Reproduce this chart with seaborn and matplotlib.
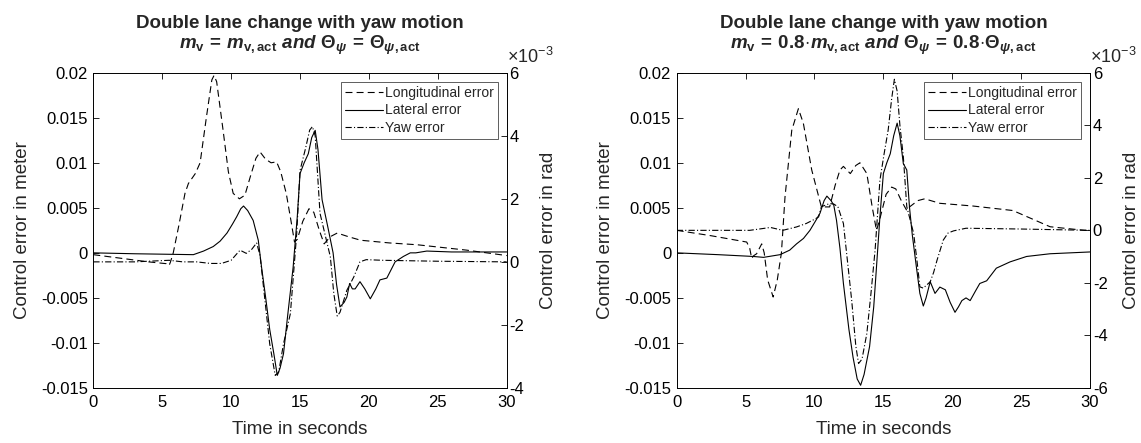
import numpy as np
import matplotlib
matplotlib.use("Agg")
import matplotlib.pyplot as plt
from matplotlib.ticker import FuncFormatter
from matplotlib.lines import Line2D
import seaborn as sns

# ---------------------------------------------------------------------------
# Data (time in s, position errors in m, yaw in 1e-3 rad)
# ---------------------------------------------------------------------------

# left panel: m_v = m_v,act
t_long_a = [0, 2, 4, 5.3, 5.5, 5.6, 5.8, 6.2, 6.65, 6.9, 7.4, 7.75, 8.2, 8.6, 8.76, 8.95,
            9.4, 9.8, 10.15, 10.6, 11.0, 11.4, 11.8, 12.1, 12.5, 12.9, 13.3, 13.6, 14.0,
            14.35, 14.6, 14.8, 15.2, 15.65, 16.0, 16.4, 16.75, 17.2, 17.7, 18.5, 19.4,
            21.5, 23.5, 27.1, 30]
long_a = [-0.0002, -0.0006, -0.001, -0.0012, -0.0014, -0.0010, 0.0, 0.003, 0.0066, 0.0077,
          0.0088, 0.0100, 0.0150, 0.0192, 0.0197, 0.0190, 0.0138, 0.0090, 0.0066, 0.0060,
          0.0064, 0.0085, 0.0105, 0.0112, 0.0104, 0.0100, 0.0101, 0.0090, 0.0066, 0.0035,
          0.0012, 0.0015, 0.0035, 0.0049, 0.0045, 0.0025, 0.0010, 0.0018, 0.0022, 0.0018,
          0.0014, 0.0011, 0.0009, 0.0003, -0.0003]

t_lat_a = [0, 3, 7.26, 8.0, 8.7, 9.2, 9.7, 10.1, 10.4, 10.7, 10.9, 11.2, 11.6, 11.97, 12.2,
           12.5, 12.8, 13.1, 13.35, 13.55, 13.8, 14.1, 14.5, 14.8, 15.0, 15.3, 15.6, 15.85,
           16.1, 16.3, 16.6, 17.0, 17.4, 17.65, 17.9, 18.2, 18.4, 18.6, 18.8, 19.0, 19.35,
           19.7, 20.1, 20.5, 20.8, 21.3, 21.9, 22.5, 23.0, 23.4, 24.2, 26, 30]
lat_a = [0.0, -0.0001, -0.0002, 0.0002, 0.0007, 0.0013, 0.0022, 0.0032, 0.0040, 0.0049,
         0.0052, 0.0047, 0.0036, 0.0014, -0.0015, -0.0049, -0.0085, -0.0112, -0.0136,
         -0.0128, -0.0112, -0.0070, -0.0016, 0.0040, 0.0088, 0.0100, 0.0110, 0.0128,
         0.0136, 0.0115, 0.0059, 0.0030, 0.0, -0.0035, -0.0060, -0.0055, -0.0049, -0.0034,
         -0.0040, -0.0040, -0.0032, -0.0040, -0.0051, -0.0040, -0.0030, -0.0028, -0.0010,
         -0.0004, 0.0, 0.0, 0.0002, 0.0001, 0.0001]

t_yaw_a = [0, 3, 5.5, 6.5, 7.5, 8.5, 9.3, 10.0, 10.4, 10.65, 11.1, 11.5, 11.85, 12.1, 12.4,
           12.8, 13.2, 13.45, 13.8, 14.3, 14.76, 15.0, 15.4, 15.7, 15.9, 16.1, 16.45, 17.2,
           17.45, 17.7, 17.9, 18.4, 18.9, 19.35, 19.8, 21.0, 25, 30]
yaw_a = [0.0, 0.0, 0.05, 0.0, 0.0, -0.05, -0.05, 0.05, 0.25, 0.37, 0.27, 0.4, 0.6, 0.2, -1.0,
         -2.6, -3.6, -3.5, -2.6, -1.64, 0.9, 2.9, 3.6, 4.18, 4.29, 4.0, 1.54, 0.16, -1.0,
         -1.72, -1.6, -0.9, -0.48, 0.0, 0.07, 0.05, 0.02, 0.0]

# right panel: m_v = 0.8 m_v,act
t_long_b = [0, 2.5, 5.08, 5.3, 5.44, 5.6, 5.8, 6.0, 6.17, 6.35, 6.6, 7.0, 7.3, 7.6, 7.86,
            8.35, 8.83, 9.19, 9.8, 10.5, 11.1, 11.5, 11.85, 12.1, 12.6, 13.0, 13.3, 13.8,
            14.2, 14.5, 14.7, 15.2, 15.6, 15.9, 16.3, 16.7, 16.9, 17.5, 18.0, 19.1, 21.5,
            24.4, 27.1, 29.6, 30]
long_b = [0.0025, 0.0019, 0.0012, 0.0005, -0.0006, -0.0003, -0.0001, 0.0005, 0.0010, 0.0,
          -0.003, -0.0049, -0.003, 0.0, 0.0062, 0.0136, 0.0160, 0.0144, 0.0092, 0.0051,
          0.0051, 0.0075, 0.0092, 0.0096, 0.0088, 0.0097, 0.0100, 0.0088, 0.0050, 0.0025,
          0.0035, 0.0065, 0.0073, 0.0071, 0.0058, 0.0047, 0.0051, 0.0058, 0.0060, 0.0055,
          0.0052, 0.0047, 0.0029, 0.0025, 0.0025]

t_lat_b = [0, 3, 5.56, 6.3, 7.5, 8.2, 8.7, 9.2, 9.67, 10.1, 10.4, 10.7, 10.9, 11.2, 11.4,
           11.6, 11.85, 12.1, 12.5, 12.8, 13.1, 13.35, 13.6, 14.0, 14.3, 14.5, 14.75, 15.0,
           15.25, 15.5, 15.75, 16.0, 16.2, 16.45, 16.7, 16.9, 17.1, 17.4, 17.65, 17.9, 18.1,
           18.4, 18.75, 19.1, 19.5, 19.85, 20.2, 20.45, 20.7, 21.0, 21.3, 21.7, 22.0, 22.5,
           23.2, 24.2, 25.4, 27.1, 30]
lat_b = [0.0, -0.0002, -0.0004, -0.0005, -0.0002, 0.0003, 0.0010, 0.0016, 0.0025, 0.0036,
         0.0044, 0.0058, 0.0063, 0.0058, 0.0053, 0.0036, 0.0005, -0.0034, -0.0085, -0.0116,
         -0.0140, -0.0147, -0.0135, -0.0104, -0.0060, -0.0016, 0.0040, 0.0088, 0.0100,
         0.0110, 0.0130, 0.0144, 0.0130, 0.0099, 0.0092, 0.0050, 0.0020, -0.0016, -0.0045,
         -0.0059, -0.0050, -0.0032, -0.0045, -0.0038, -0.0041, -0.0055, -0.0066, -0.0060,
         -0.0053, -0.0050, -0.0053, -0.0042, -0.0034, -0.0031, -0.0017, -0.0010, -0.0004,
         -0.0001, 0.0001]

t_yaw_b = [0, 5.3, 6.0, 6.8, 7.7, 8.7, 9.4, 10.0, 10.3, 10.5, 11.1, 11.4, 11.7, 12.1, 12.4,
           12.7, 13.0, 13.2, 13.45, 13.8, 14.1, 14.4, 14.75, 15.05, 15.35, 15.6, 15.8, 16.0,
           16.2, 16.45, 16.7, 17.2, 17.45, 17.65, 17.9, 18.1, 18.4, 18.65, 18.9, 19.35, 19.7,
           20.1, 21.0, 25, 30]
yaw_b = [0.0, 0.0, 0.05, 0.11, 0.0, 0.13, 0.26, 0.42, 0.51, 0.9, 1.02, 1.0, 0.9, 0.26, -1.2,
         -2.66, -4.4, -5.07, -4.9, -3.93, -2.4, -0.75, 1.91, 2.9, 3.82, 5.0, 5.75, 5.3, 4.0,
         2.8, 0.9, -0.12, -1.2, -2.15, -2.2, -2.1, -1.96, -1.6, -1.13, -0.37, -0.1, -0.02,
         0.08, 0.05, 0.0]

series_labels = ["Longitudinal error", "Lateral error", "Yaw error"]
x_ticks = [0, 5, 10, 15, 20, 25, 30]
left_ticks = [-0.015, -0.01, -0.005, 0, 0.005, 0.01, 0.015, 0.02]
right_ticks_a = [-4, -2, 0, 2, 4, 6]
right_ticks_b = [-6, -4, -2, 0, 2, 4, 6]

title_1 = "Double lane change with yaw motion"
title_2a = (r"$m_{\mathrm{v}}\,=\,m_{\mathrm{v,act}}\ \mathit{and}\ "
            r"\Theta_{\psi}\,=\,\Theta_{\psi,\mathrm{act}}$")
title_2b = (r"$m_{\mathrm{v}}\,=\,0.8\!\cdot\! m_{\mathrm{v,act}}\ \mathit{and}\ "
            r"\Theta_{\psi}\,=\,0.8\!\cdot\!\Theta_{\psi,\mathrm{act}}$")

# ---------------------------------------------------------------------------
# Style
# ---------------------------------------------------------------------------

sns.set_style("white")
plt.rcParams["font.family"] = ["Liberation Sans", "DejaVu Sans"]
plt.rcParams["axes.unicode_minus"] = False
plt.rcParams["mathtext.fontset"] = "custom"
plt.rcParams["mathtext.rm"] = "Liberation Sans:bold"
plt.rcParams["mathtext.bf"] = "Liberation Sans:bold"
plt.rcParams["mathtext.it"] = "Liberation Sans:bold:italic"
plt.rcParams["lines.scale_dashes"] = False

DASH = (0, (5, 3))
DASHDOT = (0, (4.5, 1.6, 0.8, 1.6))
LW = 0.8


def fmt_g(v, _):
    return f"{v:g}"


def draw_panel(rect, t_long, long_e, t_lat, lat_e, t_yaw, yaw_e, right_ticks, title_2):
    ax = fig.add_axes(rect)
    ax2 = ax.twinx()

    sns.lineplot(x=t_long, y=long_e, ax=ax, color="black", lw=LW, linestyle=DASH,
                 errorbar=None, legend=False, sort=False)
    sns.lineplot(x=t_lat, y=lat_e, ax=ax, color="black", lw=LW, linestyle="-",
                 errorbar=None, legend=False, sort=False)
    sns.lineplot(x=t_yaw, y=yaw_e, ax=ax2, color="black", lw=LW, linestyle=DASHDOT,
                 errorbar=None, legend=False, sort=False)

    ax.set_xlim(0, 30)
    ax.set_ylim(-0.015, 0.02)
    ax2.set_ylim(right_ticks[0], right_ticks[-1])
    ax.set_xticks(x_ticks)
    ax.set_yticks(left_ticks)
    ax2.set_yticks(right_ticks)
    ax.yaxis.set_major_formatter(FuncFormatter(fmt_g))
    ax2.yaxis.set_major_formatter(FuncFormatter(fmt_g))

    ax.tick_params(axis="x", direction="in", length=4, width=0.6, top=True,
                   labelsize=12, pad=5, colors="black")
    ax.tick_params(axis="y", direction="in", length=4, width=0.6, right=False,
                   labelsize=12, pad=4, colors="black")
    ax2.tick_params(axis="y", direction="in", length=4, width=0.6,
                    labelsize=12, pad=2, colors="black")
    for a in (ax, ax2):
        for sp in a.spines.values():
            sp.set_color("black")
            sp.set_linewidth(0.6)

    ax.set_xlabel("Time in seconds", fontsize=13.5, labelpad=8)
    ax.set_ylabel("Control error in meter", fontsize=13.5, labelpad=7)
    ax2.set_ylabel("Control error in rad", fontsize=13.5, labelpad=11)

    ax.text(0.5, 1.0 + 45 / 315, title_1, transform=ax.transAxes, ha="center",
            va="baseline", fontsize=13.5, fontweight="bold")
    ax.text(0.5, 1.0 + 24 / 315, title_2, transform=ax.transAxes, ha="center",
            va="baseline", fontsize=13.5)
    ax2.text(1.0, 1.0 + 10 / 315, r"$\mathregular{\times10^{-3}}$",
             transform=ax2.transAxes, ha="left", va="baseline", fontsize=13)

    handles = [Line2D([], [], color="black", lw=LW, linestyle=ls)
               for ls in (DASH, "-", DASHDOT)]
    leg = ax2.legend(handles, series_labels, loc="upper right", fontsize=10,
                     frameon=True, fancybox=False, framealpha=1, edgecolor="#444444",
                     handlelength=2.7, handletextpad=0.15, labelspacing=0.25,
                     borderpad=0.3, borderaxespad=0.65)
    leg.get_frame().set_linewidth(0.6)
    return ax, ax2


fig = plt.figure(figsize=(11.41, 4.43), dpi=100)

draw_panel([0.0818, 0.1242, 0.3623, 0.7117], t_long_a, long_a, t_lat_a, lat_a,
           t_yaw_a, yaw_a, right_ticks_a, title_2a)
draw_panel([0.5931, 0.1242, 0.3622, 0.7117], t_long_b, long_b, t_lat_b, lat_b,
           t_yaw_b, yaw_b, right_ticks_b, title_2b)

fig.savefig("out.png", dpi=100)
plt.close(fig)
